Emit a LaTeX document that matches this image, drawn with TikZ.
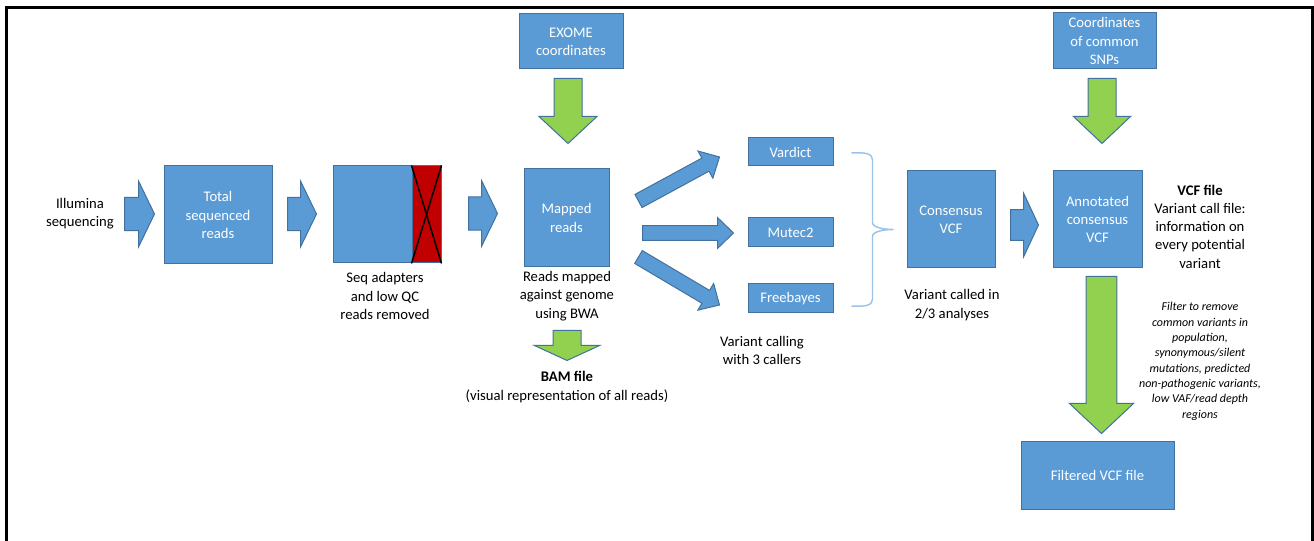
\documentclass[tikz,border=0pt]{standalone}
\usepackage{fontspec}
\setmainfont{Carlito}
\usetikzlibrary{calc,positioning}
\definecolor{boxblue}{HTML}{5B9BD5}
\definecolor{boxline}{HTML}{41719C}
\definecolor{argreen}{HTML}{92D050}
\definecolor{qcred}{HTML}{C00000}
\definecolor{bracecol}{HTML}{9DC3E6}
% block arrow: style, tail, tip, shaft half width, head half width, head length
\newcommand{\fatarrow}[6]{%
  \coordinate (fa-s) at #2;
  \coordinate (fa-e) at #3;
  \coordinate (fa-h) at ($(fa-e)!#6!(fa-s)$);
  \filldraw[#1] ($(fa-s)!#4!90:(fa-e)$) -- ($(fa-h)!#4!90:(fa-e)$) -- ($(fa-h)!#5!90:(fa-e)$) -- (fa-e)
    -- ($(fa-h)!#5!-90:(fa-e)$) -- ($(fa-h)!#4!-90:(fa-e)$) -- ($(fa-s)!#4!-90:(fa-e)$) -- cycle;}

\begin{document}
\begin{tikzpicture}[
  x=0.75pt, y=-0.75pt,
  box/.style={rectangle, draw=boxline, line width=0.75pt, fill=boxblue, text=white, align=center, inner sep=0pt, font=\fontsize{11}{13.7}\selectfont},
  lbl/.style={align=center, inner sep=0pt, font=\fontsize{11}{13.7}\selectfont},
  note/.style={align=center, inner sep=0pt, font=\fontsize{9}{11.5}\selectfont\itshape},
  bluearrow/.style={fill=boxblue, draw=boxline, line width=0.75pt},
  greenarrow/.style={fill=argreen, draw=boxline, line width=0.75pt}
]
\useasboundingbox (0,0) rectangle (1314,541);
\draw[line width=2.25pt] (6.7,545) -- (6.7,7.7) -- (1312,7.7) -- (1312,545);

\node[box, minimum width=81pt, minimum height=73.5pt] (total) at (218,215) {Total\\sequenced\\reads};
\node[box, minimum width=81pt, minimum height=72.75pt] (seq) at (387,214.5) {};
\node[rectangle, fill=qcred, draw=boxline, line width=0.75pt, inner sep=0pt, minimum width=21.75pt, minimum height=72.75pt, anchor=east] (qc) at (seq.east) {};
\draw[line width=1.1pt] (qc.north west) -- (qc.south east) (qc.north east) -- (qc.south west);
\node[box, minimum width=63.75pt, minimum height=73.5pt] (mapped) at (566.5,218) {Mapped\\reads};
\node[box, minimum width=78pt, minimum height=41.25pt] (exome) at (571,41.5) {EXOME\\coordinates};
\node[box, minimum width=63.75pt, minimum height=21pt] (vardict) at (790.5,152) {Vardict};
\node[box, minimum width=63.75pt, minimum height=21.75pt] (mutec) at (790.5,232.5) {Mutec2};
\node[box, minimum width=63.75pt, minimum height=21.75pt] (freebayes) at (790.5,298.5) {Freebayes};
\node[box, minimum width=66pt, minimum height=72.75pt] (consensus) at (951,219.5) {Consensus\\VCF};
\node[box, minimum width=66.75pt, minimum height=72.75pt] (annot) at (1097.5,219.5) {Annotated\\consensus\\VCF};
\node[box, minimum width=77.25pt, minimum height=42pt] (coords) at (1104.5,41) {Coordinates\\of common\\SNPs};
\node[box, minimum width=114.75pt, minimum height=50.25pt] (filtered) at (1097.5,475.5) {Filtered VCF file};

\node[lbl] (illum) at (80,214) {Illumina\\sequencing};
\node[lbl] (seqlbl) at (385,296) {Seq adapters\\and low QC\\reads removed};
\node[lbl] (mappedlbl) at (567,296) {Reads mapped\\against genome\\using BWA};
\node[lbl] (bam) at (567,387) {\textbf{BAM file}\\(visual representation of all reads)};
\node[lbl] (calllbl) at (762,350.5) {Variant calling\\with 3 callers};
\node[lbl] (conslbl) at (952,305) {Variant called in\\2/3 analyses};
\node[lbl] (vcflbl) at (1200,226.5) {\textbf{VCF file}\\Variant call file:\\information on\\every potential\\variant};
\node[note] (filterlbl) at (1200,361.5) {Filter to remove\\common variants in\\population,\\synonymous/silent\\mutations, predicted\\non-pathogenic variants,\\low VAF/read depth\\regions};

\fatarrow{bluearrow}{($(total.west)+(-39,-1)$)}{($(total.west)+(-9,-1)$)}{12.4pt}{24.75pt}{12pt}
\fatarrow{bluearrow}{($(total.east)+(15,-1)$)}{($(seq.west)+(-16,-0.5)$)}{12.4pt}{24.75pt}{12pt}
\fatarrow{bluearrow}{($(seq.east)+(27,-1)$)}{($(mapped.west)+(-26,-4.5)$)}{12.4pt}{24.75pt}{12pt}
\fatarrow{greenarrow}{($(exome.south)+(-3,9)$)}{($(mapped.north)+(1.5,-25)$)}{10.5pt}{21.75pt}{20.25pt}
\fatarrow{bluearrow}{($(mapped.east)+(29,-17)$)}{($(vardict.west)+(-28,5)$)}{5.6pt}{11.6pt}{12pt}
\fatarrow{bluearrow}{($(mapped.east)+(33,15)$)}{($(mutec.west)+(-14,0.5)$)}{5.6pt}{11.6pt}{12pt}
\fatarrow{bluearrow}{($(mapped.east)+(29,39)$)}{($(freebayes.west)+(-28,6.5)$)}{5.6pt}{11.6pt}{12pt}
\fatarrow{greenarrow}{($(mapped.south)+(0.5,63)$)}{($(mapped.south)+(0.5,93)$)}{10.5pt}{24.4pt}{11.25pt}
\fatarrow{bluearrow}{($(consensus.east)+(15,5.5)$)}{($(annot.west)+(-14,5.5)$)}{11.6pt}{24pt}{11.25pt}
\fatarrow{greenarrow}{($(coords.south)+(-2.5,9)$)}{($(annot.north)+(4.5,-27)$)}{10.5pt}{21.4pt}{20.25pt}
\fatarrow{greenarrow}{($(annot.south)+(4,8)$)}{($(filtered.north)+(4,-8)$)}{11.6pt}{24pt}{22.5pt}

\coordinate (bt) at ($(vardict.east)+(18,1)$);
\coordinate (bb) at ($(freebayes.east)+(18,7.5)$);
\coordinate (bm) at ($(bt)!0.5!(bb)$);
\draw[bracecol, line width=1.1pt] (bt) .. controls +(15,-1) and +(0,-6) .. ($(bt)+(21,7)$) -- ($(bm)+(21,-7)$)
  .. controls +(0,5) and +(-10,0) .. ($(bm)+(42,0)$) .. controls +(-10,0) and +(0,-5) .. ($(bm)+(21,7)$)
  -- ($(bb)+(21,-7)$) .. controls +(0,6) and +(15,1) .. (bb);
\end{tikzpicture}
\end{document}
